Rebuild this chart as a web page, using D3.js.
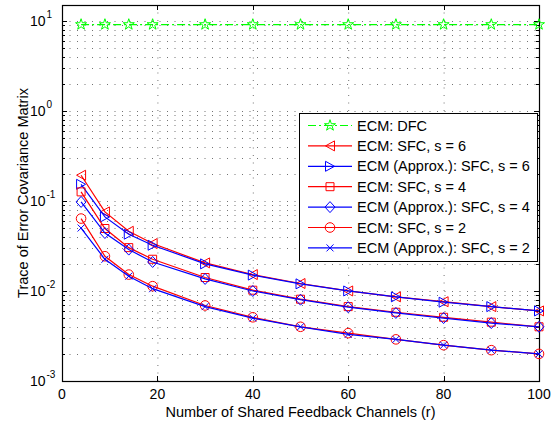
<!DOCTYPE html>
<meta charset="utf-8">
<style>
  body { margin: 0; background: white; }
  text { font-family: "Liberation Sans", Arial, sans-serif; fill: black; }
</style>
<script src="https://d3js.org/d3.v7.min.js"></script>
<body>
<div id="chart"></div>
<script>
// data
const rValues = [4, 9, 14, 19, 30, 40, 50, 60, 70, 80, 90, 100];
const dfc     = [9.1, 9.1, 9.1, 9.1, 9.1, 9.1, 9.1, 9.1, 9.1, 9.1, 9.1, 9.1];
const sfc6    = [0.193, 0.0755, 0.046, 0.0336, 0.0205, 0.0152, 0.0121, 0.0100, 0.0086, 0.0076, 0.0067, 0.0060];
const approx6 = [0.153, 0.0664, 0.0427, 0.0322, 0.0200, 0.0150, 0.0120, 0.0100, 0.0086, 0.0075, 0.0067, 0.0060];
const sfc4    = [0.126, 0.0494, 0.0303, 0.0225, 0.0141, 0.0102, 0.0081, 0.0067, 0.0058, 0.0051, 0.0045, 0.0040];
const approx4 = [0.0975, 0.044, 0.0288, 0.021, 0.0136, 0.0100, 0.0080, 0.0066, 0.0057, 0.0050, 0.0044, 0.0040];
const sfc2    = [0.0637, 0.0243, 0.0152, 0.0113, 0.0069, 0.0051, 0.0040, 0.0034, 0.0029, 0.0025, 0.0022, 0.0020];
const approx2 = [0.050, 0.0225, 0.0146, 0.0106, 0.0067, 0.0050, 0.0040, 0.0033, 0.0029, 0.0025, 0.0022, 0.0020];

const xTicks = [0, 20, 40, 60, 80, 100];
const yDecades = [1e-3, 1e-2, 1e-1, 1e0, 1e1];
const yExponents = ["-3", "-2", "-1", "0", "1"];

const seriesNames = ["ECM: DFC", "ECM: SFC, s = 6", "ECM (Approx.): SFC, s = 6", "ECM: SFC, s = 4",
                     "ECM (Approx.): SFC, s = 4", "ECM: SFC, s = 2", "ECM (Approx.): SFC, s = 2"];
const seriesValues = [dfc, sfc6, approx6, sfc4, approx4, sfc2, approx2];
const seriesColors = ["#00ff00", "#ff0000", "#0000ff", "#ff0000", "#0000ff", "#ff0000", "#0000ff"];
const seriesMarkers = ["star", "triLeft", "triRight", "square", "diamond", "circle", "cross"];

const W = 552, H = 425;
const plot = {left: 62, right: 539, top: 5, bottom: 381};

const svg = d3.select("#chart").append("svg")
  .attr("width", W).attr("height", H);

const x = d3.scaleLinear().domain([0, 100]).range([plot.left, plot.right]);
const y = d3.scaleLog().domain([1e-3, 15]).range([plot.bottom, plot.top]);

// grid (dotted, like matlab)
const grid = svg.append("g")
  .attr("stroke", "#000").attr("stroke-width", 1)
  .attr("stroke-opacity", 0.55).attr("stroke-dasharray", "1,6.5");
grid.selectAll(".gx").data(xTicks.slice(1, -1)).enter().append("line")
  .attr("x1", d => x(d) + 0.5).attr("x2", d => x(d) + 0.5)
  .attr("y1", plot.top).attr("y2", plot.bottom);
const yMinor = y.ticks().filter(d => d > 1e-3);
grid.selectAll(".gy").data(yMinor).enter().append("line")
  .attr("x1", plot.left).attr("x2", plot.right)
  .attr("y1", d => Math.round(y(d)) + 0.5).attr("y2", d => Math.round(y(d)) + 0.5);

// ticks: inward on all four sides
const tk = svg.append("g").attr("stroke", "#000").attr("stroke-width", 1);
xTicks.forEach(d => {
  const px = Math.round(x(d)) + 0.5;
  tk.append("line").attr("x1", px).attr("x2", px).attr("y1", plot.bottom).attr("y2", plot.bottom - 5);
  tk.append("line").attr("x1", px).attr("x2", px).attr("y1", plot.top).attr("y2", plot.top + 5);
});
y.ticks().forEach(d => {
  const py = Math.round(y(d)) + 0.5;
  const len = yDecades.includes(d) ? 5 : 3;
  tk.append("line").attr("x1", plot.left).attr("x2", plot.left + len).attr("y1", py).attr("y2", py);
  tk.append("line").attr("x1", plot.right).attr("x2", plot.right - len).attr("y1", py).attr("y2", py);
});

// box
svg.append("rect")
  .attr("x", plot.left + 0.5).attr("y", plot.top + 0.5)
  .attr("width", plot.right - plot.left).attr("height", plot.bottom - plot.top)
  .attr("fill", "none").attr("stroke", "#000").attr("stroke-width", 1.2);

// tick labels
svg.selectAll(".xl").data(xTicks).enter().append("text")
  .attr("x", d => x(d)).attr("y", 399)
  .attr("text-anchor", "middle").attr("font-size", "14px")
  .text(d => d);

yDecades.forEach((d, i) => {
  const py = y(d);
  svg.append("text").attr("x", 45.5).attr("y", py + 5)
    .attr("text-anchor", "end").attr("font-size", "14px").text("10");
  svg.append("text").attr("x", 46.5).attr("y", py - 3)
    .attr("font-size", "10px").text(yExponents[i]);
});

// axis titles
svg.append("text")
  .attr("x", (plot.left + plot.right) / 2).attr("y", 416.5)
  .attr("text-anchor", "middle").attr("font-size", "14.5px")
  .text("Number of Shared Feedback Channels (r)");
svg.append("text")
  .attr("transform", "translate(28," + (plot.top + plot.bottom) / 2 + ") rotate(-90)")
  .attr("text-anchor", "middle").attr("font-size", "14.5px")
  .text("Trace of Error Covariance Matrix");

// markers
function drawMarker(g, type, color) {
  const m = g.append("path").attr("fill", "none").attr("stroke", color).attr("stroke-width", 1);
  if (type === "star") m.attr("d", d3.symbol(d3.symbolStar, 38)());
  if (type === "triLeft") m.attr("d", "M-4.5,0L4.5,-5L4.5,5Z");
  if (type === "triRight") m.attr("d", "M4.5,0L-4.5,-5L-4.5,5Z");
  if (type === "square") m.attr("d", "M-4,-4H4V4H-4Z");
  if (type === "diamond") m.attr("d", "M0,-5.5L5,0L0,5.5L-5,0Z");
  if (type === "circle") m.attr("d", d3.arc()({innerRadius: 0, outerRadius: 4.8, startAngle: 0, endAngle: 2 * Math.PI}));
  if (type === "cross") m.attr("d", "M-3.5,-3.5L3.5,3.5M-3.5,3.5L3.5,-3.5");
  return m;
}

const line = d3.line().x(d => x(d[0])).y(d => y(d[1]));

seriesValues.forEach((vals, i) => {
  const pts = rValues.map((r, j) => [r, vals[j]]);
  const g = svg.append("g");
  g.append("path").datum(pts)
    .attr("d", line).attr("fill", "none")
    .attr("stroke", seriesColors[i]).attr("stroke-width", 1.2)
    .attr("stroke-dasharray", seriesMarkers[i] === "star" ? "8,3,2,3" : null);
  pts.forEach(p => {
    const mg = g.append("g").attr("transform", "translate(" + x(p[0]) + "," + y(p[1]) + ")");
    drawMarker(mg, seriesMarkers[i], seriesColors[i]);
  });
});

// legend
const leg = svg.append("g");
leg.append("rect")
  .attr("x", 299.5).attr("y", 113.5).attr("width", 238).attr("height", 148)
  .attr("fill", "white").attr("stroke", "#000").attr("stroke-width", 1);
seriesNames.forEach((name, i) => {
  const ry = 125.5 + i * 20.4;
  leg.append("line")
    .attr("x1", 308).attr("x2", 352).attr("y1", ry).attr("y2", ry)
    .attr("stroke", seriesColors[i]).attr("stroke-width", 1.2)
    .attr("stroke-dasharray", seriesMarkers[i] === "star" ? "8,3,2,3" : null);
  const mg = leg.append("g").attr("transform", "translate(330," + ry + ")");
  drawMarker(mg, seriesMarkers[i], seriesColors[i]);
  leg.append("text").attr("x", 357).attr("y", ry + 5)
    .attr("font-size", "14.5px").text(name);
});
</script>
</body>
